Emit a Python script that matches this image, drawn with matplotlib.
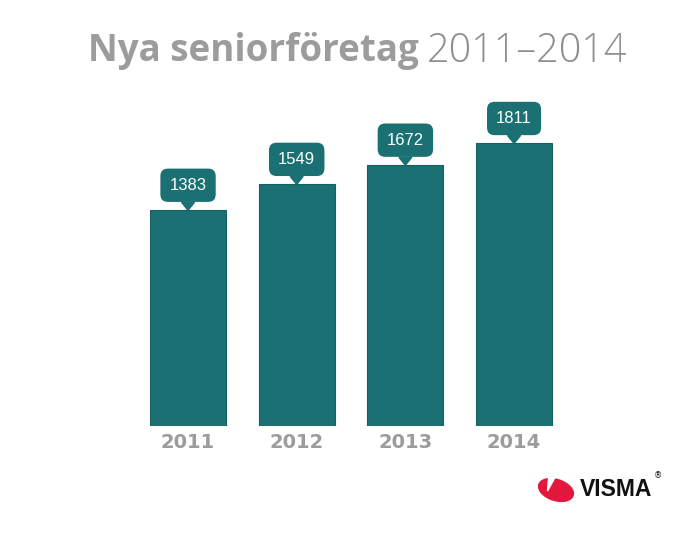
import numpy as np
import matplotlib.pyplot as plt
from matplotlib.transforms import IdentityTransform
from matplotlib.patches import Polygon, Ellipse

years = ['2011', '2012', '2013', '2014']
values = [1383, 1549, 1672, 1811]

bar_color = '#1b7073'
grey = '#9c9c9c'

W, H = 700, 537
fig = plt.figure(figsize=(W / 100, H / 100), dpi=100)
ax = fig.add_axes([0.191, 0.2067, 0.621, 0.581])

x = np.arange(len(years))
ax.bar(x, values, width=0.7, color=bar_color, edgecolor='#16605f', linewidth=0.8)
ax.set_xlim(-0.5, 3.5)
ax.set_ylim(0, 2000)
for s in ax.spines.values():
    s.set_visible(False)
ax.set_yticks([])
ax.set_xticks(x)
ax.set_xticklabels(years, fontsize=14, fontweight='bold', color=grey,
                   family='DejaVu Sans')
ax.tick_params(axis='x', length=0, pad=5)

# callouts: pointer triangle + rounded box with value
for xi, v in zip(x, values):
    px, py = ax.transData.transform((xi, v))
    tri = Polygon([[px - 6.5, py + 8], [px + 6.5, py + 8], [px, py]], closed=True,
                  transform=IdentityTransform(), color=bar_color, clip_on=False)
    fig.patches.append(tri)
    ax.annotate(str(v), (xi, v), xytext=(0, 18), textcoords='offset points',
                ha='center', va='center', fontsize=12, color='white',
                family=['Liberation Sans', 'DejaVu Sans'],
                bbox=dict(boxstyle='round,pad=0.55,rounding_size=0.45',
                          fc=bar_color, ec='none'))

# title
t1 = fig.text(0.126, 0.905, 'Nya seniorföretag', fontsize=26.5, fontweight='bold',
              color=grey, family=['Open Sans', 'DejaVu Sans'], va='center')
fig.canvas.draw()
bb = t1.get_window_extent()
fig.text(bb.x1 / W + 0.011, 0.905, '2011–2014', fontsize=28.5, fontweight='light',
         color='#8e8e8e', family=['Open Sans', 'DejaVu Sans'], va='center')

# logo
fig.patches.append(Ellipse((556, H - 490), 36, 21, angle=-18, color='#e3173e',
                           transform=IdentityTransform()))
fig.patches.append(Polygon([[549, H - 472], [558, H - 472], [547.5, H - 491]], closed=True,
                           color='white', transform=IdentityTransform()))
fig.text(580 / W, 1 - 489 / H, 'VISMA', fontsize=16.5, fontweight='bold', color='#111111',
         family=['Liberation Sans', 'DejaVu Sans'], va='center')
fig.text(654 / W, 1 - 476 / H, '®', fontsize=6, color='#111111', va='center')

fig.savefig('out.png', dpi=100)
